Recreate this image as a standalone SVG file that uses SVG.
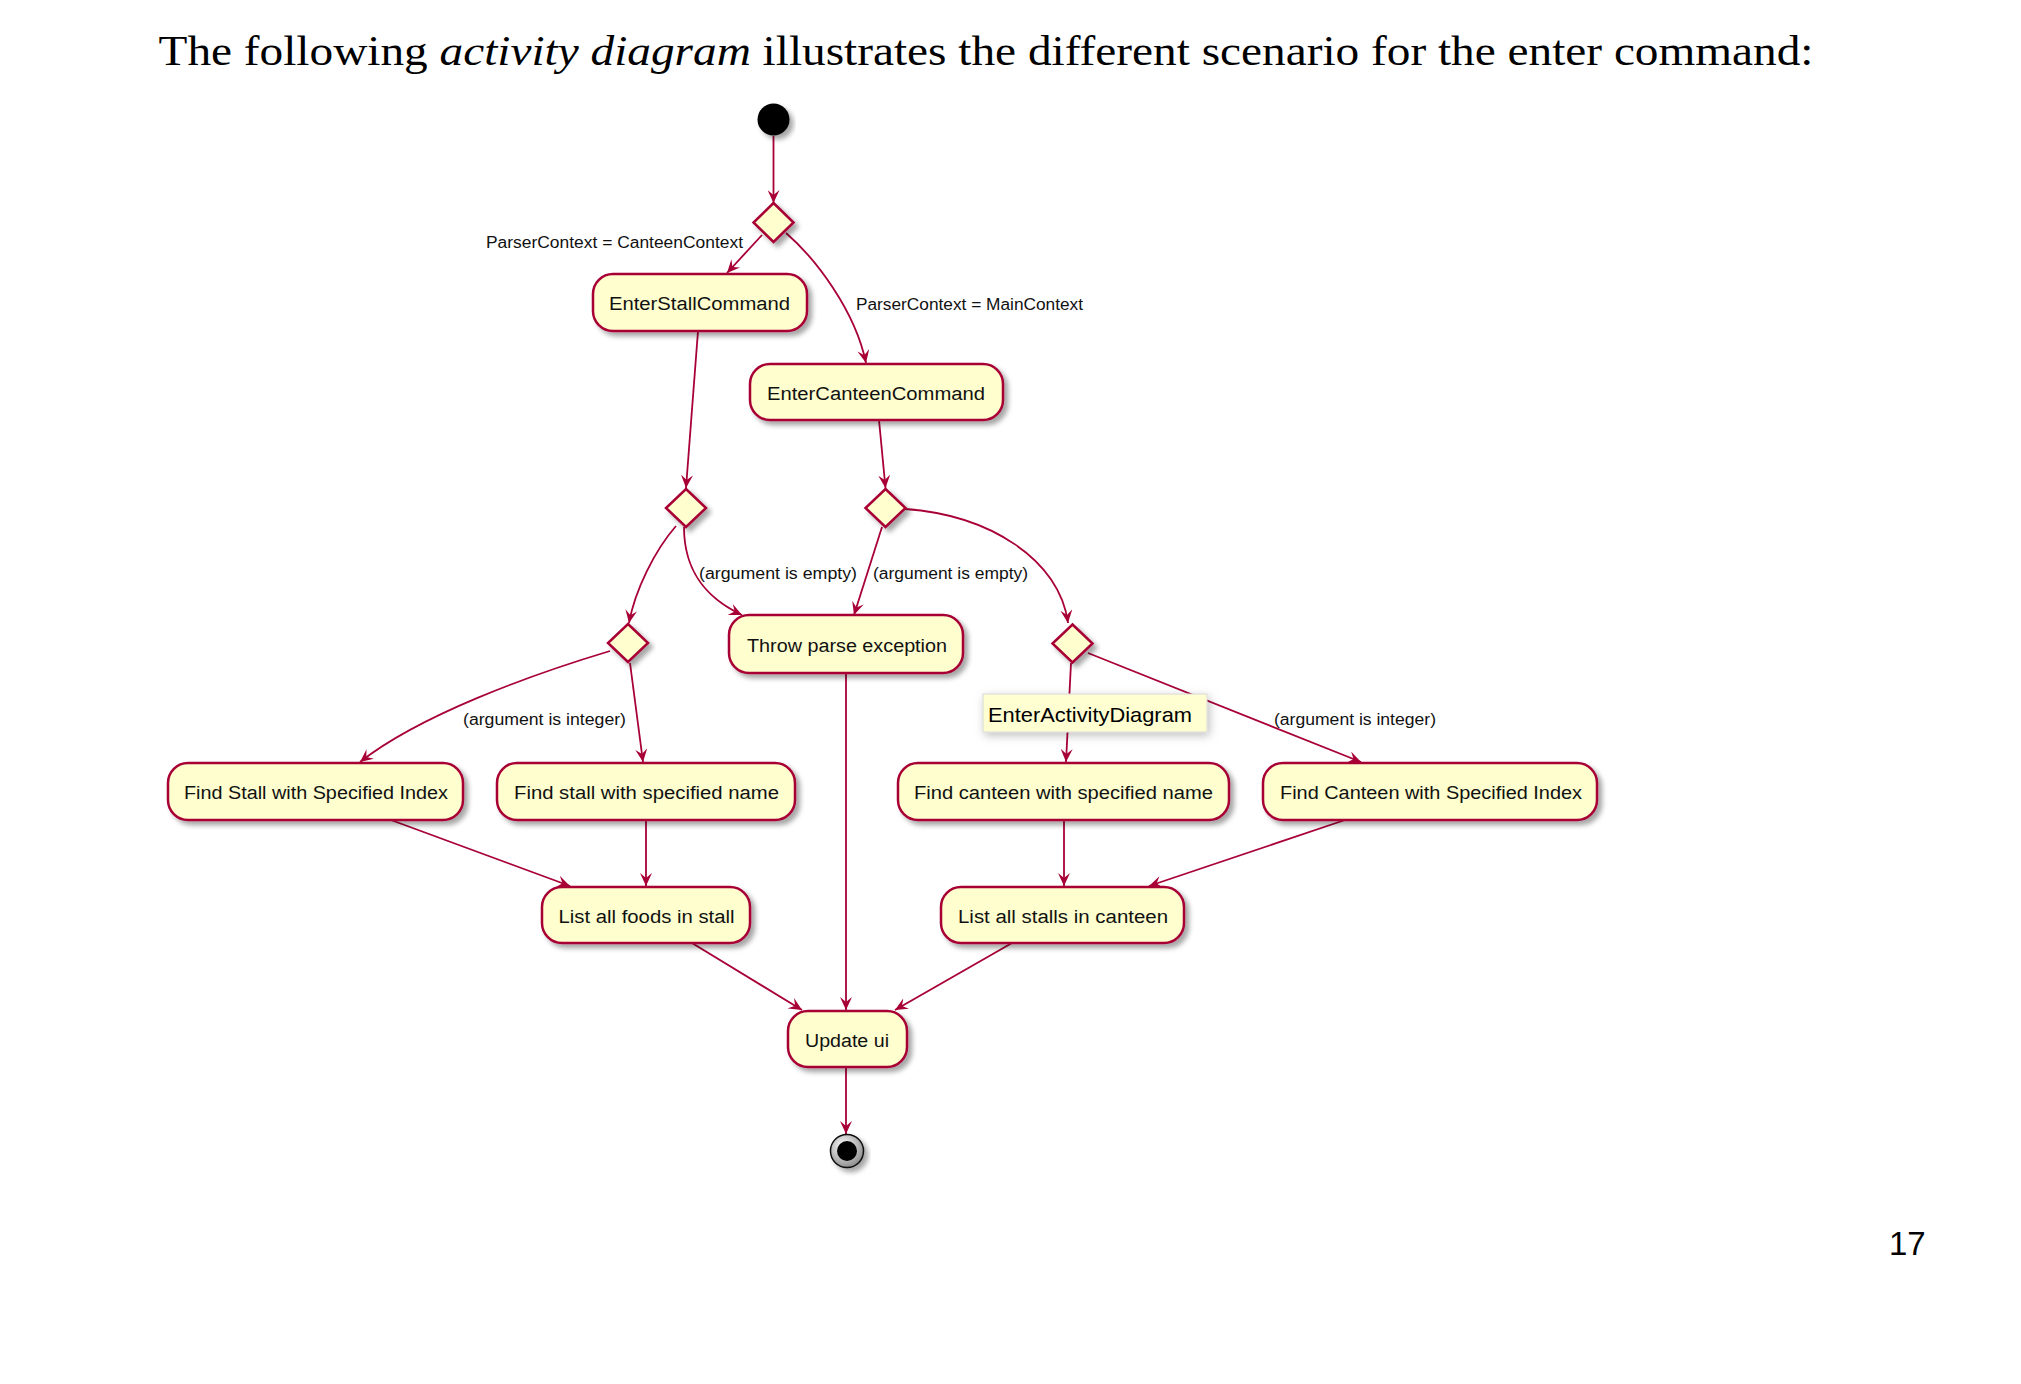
<svg xmlns="http://www.w3.org/2000/svg" width="2021" height="1384" viewBox="0 0 2021 1384">
<style>
.node rect{fill:#FEFECE;stroke:#A80036;stroke-width:2.5}
.node text{font-family:"Liberation Sans",Arial,sans-serif;font-size:18px;fill:#111}
.dia{fill:#FEFECE;stroke:#A80036;stroke-width:2.5}
.edge{fill:none;stroke:#A80036;stroke-width:1.8}
.lbl{font-family:"Liberation Sans",Arial,sans-serif;font-size:16px;fill:#111}
</style>
<defs>
<filter id="sh" x="-20%" y="-30%" width="140%" height="170%"><feDropShadow dx="4" dy="4" stdDeviation="2.5" flood-color="#000" flood-opacity="0.35"/></filter>
<filter id="sh2" x="-20%" y="-40%" width="140%" height="190%"><feDropShadow dx="2" dy="3" stdDeviation="5" flood-color="#000" flood-opacity="0.25"/></filter>
<marker id="ah" viewBox="0 0 14 12" refX="13" refY="6" markerWidth="14" markerHeight="12" markerUnits="userSpaceOnUse" orient="auto"><path d="M13,6 L0,0 L5,6 L0,12 Z" fill="#A80036"/></marker>
<radialGradient id="endg" cx="40%" cy="35%" r="70%"><stop offset="0" stop-color="#ffffff"/><stop offset="1" stop-color="#888888"/></radialGradient>
</defs>
<rect width="2021" height="1384" fill="#fff"/>
<text x="158.5" y="65" font-family="'Liberation Serif','Times New Roman',serif" font-size="42" fill="#000" textLength="1655" lengthAdjust="spacingAndGlyphs">The following <tspan font-style="italic">activity diagram</tspan> illustrates the different scenario for the enter command:</text>
<text x="1889" y="1255" font-family="'Liberation Sans',Arial,sans-serif" font-size="33" fill="#000">17</text>

<g id="connectors">
<path class="edge" marker-end="url(#ah)" d="M773.5,136 L773.5,203"/>
<path class="edge" marker-end="url(#ah)" d="M762,235 L727,273"/>
<path class="edge" marker-end="url(#ah)" d="M786,233 C815,258 855,310 866,363"/>
<path class="edge" marker-end="url(#ah)" d="M698,331 L686,488"/>
<path class="edge" marker-end="url(#ah)" d="M879,420 L885.5,488"/>
<path class="edge" marker-end="url(#ah)" d="M676,526 C655,550 635,590 629,623"/>
<path class="edge" marker-end="url(#ah)" d="M684,527 C684,575 710,600 742,615"/>
<path class="edge" marker-end="url(#ah)" d="M882,527 L854,615"/>
<path class="edge" marker-end="url(#ah)" d="M905,509 C990,515 1060,560 1068,623"/>
<path class="edge" marker-end="url(#ah)" d="M610,651 C530,675 420,715 360,762"/>
<path class="edge" marker-end="url(#ah)" d="M630,663 L643,762"/>
<path class="edge" marker-end="url(#ah)" d="M391,820 L570,886"/>
<path class="edge" marker-end="url(#ah)" d="M646,820 L646,886"/>
<path class="edge" marker-end="url(#ah)" d="M846,673 L846,1010"/>
<path class="edge" marker-end="url(#ah)" d="M692,943 L802,1010"/>
<path class="edge" marker-end="url(#ah)" d="M1071,663 L1066,762"/>
<path class="edge" marker-end="url(#ah)" d="M1088,653 L1361,762"/>
<path class="edge" marker-end="url(#ah)" d="M1064,820 L1064,886"/>
<path class="edge" marker-end="url(#ah)" d="M1345,820 L1149,886"/>
<path class="edge" marker-end="url(#ah)" d="M1012,943 L895,1010"/>
<path class="edge" marker-end="url(#ah)" d="M846,1067 L846,1134"/>
<text class="lbl" x="486" y="248" textLength="257" lengthAdjust="spacingAndGlyphs">ParserContext = CanteenContext</text>
<text class="lbl" x="856" y="310" textLength="227" lengthAdjust="spacingAndGlyphs">ParserContext = MainContext</text>
<text class="lbl" x="699" y="579" textLength="158" lengthAdjust="spacingAndGlyphs">(argument is empty)</text>
<text class="lbl" x="873" y="579" textLength="155" lengthAdjust="spacingAndGlyphs">(argument is empty)</text>
<text class="lbl" x="463" y="725" textLength="163" lengthAdjust="spacingAndGlyphs">(argument is integer)</text>
<text class="lbl" x="1274" y="725" textLength="162" lengthAdjust="spacingAndGlyphs">(argument is integer)</text>
</g>

<g id="start"><circle cx="773.5" cy="119.5" r="16" fill="#000" filter="url(#sh)"/></g>
<g id="d1"><polygon class="dia" filter="url(#sh)" points="773.5,203 793.5,222.5 773.5,242 753.5,222.5"/></g>
<g id="dL"><polygon class="dia" filter="url(#sh)" points="686,489 706,508 686,527 666,508"/></g>
<g id="dR"><polygon class="dia" filter="url(#sh)" points="885.5,489 905.5,508 885.5,527 865.5,508"/></g>
<g id="dSL"><polygon class="dia" filter="url(#sh)" points="628,624 648,643 628,662 608,643"/></g>
<g id="dSR"><polygon class="dia" filter="url(#sh)" points="1072.5,624.5 1092.5,643.5 1072.5,662.5 1052.5,643.5"/></g>

<g id="enterStall" class="node"><rect x="593" y="274" width="214" height="57" rx="20" filter="url(#sh)"/><text x="609" y="310" textLength="181" lengthAdjust="spacingAndGlyphs">EnterStallCommand</text></g>
<g id="enterCanteen" class="node"><rect x="750" y="364" width="253" height="56" rx="20" filter="url(#sh)"/><text x="767" y="400" textLength="218" lengthAdjust="spacingAndGlyphs">EnterCanteenCommand</text></g>
<g id="throwParse" class="node"><rect x="729" y="615" width="234" height="58" rx="20" filter="url(#sh)"/><text x="747" y="652" textLength="200" lengthAdjust="spacingAndGlyphs">Throw parse exception</text></g>
<g id="findStallIndex" class="node"><rect x="168" y="763" width="295" height="57" rx="20" filter="url(#sh)"/><text x="184" y="799" textLength="264" lengthAdjust="spacingAndGlyphs">Find Stall with Specified Index</text></g>
<g id="findStallName" class="node"><rect x="497" y="763" width="298" height="57" rx="20" filter="url(#sh)"/><text x="514" y="799" textLength="265" lengthAdjust="spacingAndGlyphs">Find stall with specified name</text></g>
<g id="findCanteenName" class="node"><rect x="898" y="763" width="331" height="57" rx="20" filter="url(#sh)"/><text x="914" y="799" textLength="299" lengthAdjust="spacingAndGlyphs">Find canteen with specified name</text></g>
<g id="findCanteenIndex" class="node"><rect x="1263" y="763" width="334" height="57" rx="20" filter="url(#sh)"/><text x="1280" y="799" textLength="302" lengthAdjust="spacingAndGlyphs">Find Canteen with Specified Index</text></g>
<g id="listFoods" class="node"><rect x="542" y="887" width="208" height="56" rx="20" filter="url(#sh)"/><text x="558.5" y="923" textLength="176" lengthAdjust="spacingAndGlyphs">List all foods in stall</text></g>
<g id="listStalls" class="node"><rect x="941" y="887" width="243" height="56" rx="20" filter="url(#sh)"/><text x="958" y="923" textLength="210" lengthAdjust="spacingAndGlyphs">List all stalls in canteen</text></g>
<g id="updateUi" class="node"><rect x="788" y="1011" width="119" height="56" rx="20" filter="url(#sh)"/><text x="805" y="1047" textLength="84" lengthAdjust="spacingAndGlyphs">Update ui</text></g>

<g id="end"><circle cx="847" cy="1151" r="16.5" fill="url(#endg)" stroke="#111" stroke-width="1.5" filter="url(#sh)"/><circle cx="847" cy="1151" r="10" fill="#000"/></g>

<g id="tooltip"><rect x="983" y="694" width="224" height="38" fill="#FFFFD2" stroke="#d8d8d8" stroke-width="1" filter="url(#sh2)"/><text x="988" y="721.5" font-family="'Liberation Sans',Arial,sans-serif" font-size="21" fill="#000" textLength="204" lengthAdjust="spacingAndGlyphs">EnterActivityDiagram</text></g>
</svg>
